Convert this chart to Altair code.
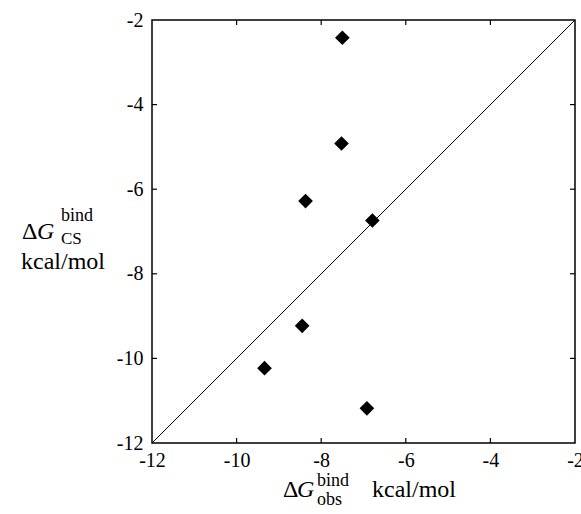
import altair as alt
import pandas as pd

# Observed vs. computed binding free energies (kcal/mol)
dg_obs = [-7.50, -7.52, -8.37, -6.79, -8.45, -9.34, -6.92]
dg_cs = [-2.42, -4.92, -6.28, -6.74, -9.23, -10.23, -11.18]

# Axis range, tick values and the y = x reference line
axis_lo, axis_hi = -12, -2
tick_values = [-12, -10, -8, -6, -4, -2]
inner_ticks = [-10, -8, -6, -4]
diag = [-12, -2]

W, H = 423, 423
SERIF = "Liberation Serif, Times New Roman, Times, serif"
TICK_LEN = 5

points = pd.DataFrame({"obs": dg_obs, "cs": dg_cs})
diag_df = pd.DataFrame({"obs": diag, "cs": diag})
ticks_df = pd.DataFrame({"v": inner_ticks})

xscale = alt.Scale(domain=[axis_lo, axis_hi], nice=False, zero=False)
yscale = alt.Scale(domain=[axis_lo, axis_hi], nice=False, zero=False)

axis_common = dict(
    values=tick_values,
    ticks=False,
    domain=False,
    grid=False,
    labelFont=SERIF,
    labelFontSize=20,
    labelColor="black",
    labelFlush=False,
    labelOverlap=False,
    labelExpr="'' + datum.value",  # plain hyphen-minus
    title=None,
)

x_enc = alt.X("obs:Q", scale=xscale, axis=alt.Axis(labelPadding=7, **axis_common))
y_enc = alt.Y("cs:Q", scale=yscale, axis=alt.Axis(labelPadding=9, **axis_common))

diagonal = alt.Chart(diag_df).mark_line(color="black", strokeWidth=1).encode(
    x=x_enc, y=y_enc
)

scatter = alt.Chart(points).mark_point(
    shape="diamond", filled=True, color="black", size=215, opacity=1
).encode(x=alt.X("obs:Q", scale=xscale), y=alt.Y("cs:Q", scale=yscale))

# Inward tick marks on all four sides of the frame
tick_style = dict(color="black", strokeWidth=1.2)
xq = alt.X("v:Q", scale=xscale)
yq = alt.Y("v:Q", scale=yscale)
ticks_bottom = alt.Chart(ticks_df).mark_rule(**tick_style).encode(
    x=xq, y=alt.value(H), y2=alt.value(H - TICK_LEN)
)
ticks_top = alt.Chart(ticks_df).mark_rule(**tick_style).encode(
    x=xq, y=alt.value(0), y2=alt.value(TICK_LEN)
)
ticks_left = alt.Chart(ticks_df).mark_rule(**tick_style).encode(
    y=yq, x=alt.value(0), x2=alt.value(TICK_LEN)
)
ticks_right = alt.Chart(ticks_df).mark_rule(**tick_style).encode(
    y=yq, x=alt.value(W), x2=alt.value(W - TICK_LEN)
)


def label(text, x, y, size, italic=False):
    """A piece of axis-title text placed relative to the plot origin."""
    kw = dict(
        font=SERIF,
        fontSize=size,
        color="black",
        align="left",
        baseline="alphabetic",
    )
    if italic:
        kw["fontStyle"] = "italic"
    return alt.Chart(pd.DataFrame({"t": [text]})).mark_text(**kw).encode(
        x=alt.value(x), y=alt.value(y), text="t:N"
    )


OX, OY = 152, 20  # plot origin on the page

# x-axis title: ΔG^bind_obs kcal/mol
xt_base = 497
x_title = [
    label("\u0394", 283 - OX, xt_base - OY, 24),
    label("G", 297 - OX, xt_base - OY, 24, italic=True),
    label("bind", 317 - OX, xt_base - 11 - OY, 18),
    label("obs", 317 - OX, xt_base + 8 - OY, 18),
    label("kcal/mol", 372 - OX, xt_base - OY, 24),
]

# y-axis title: ΔG^bind_CS / kcal/mol
yt_base = 239
y_title = [
    label("\u0394", 22 - OX, yt_base - OY, 24),
    label("G", 37 - OX, yt_base - OY, 24, italic=True),
    label("bind", 61 - OX, yt_base - 18 - OY, 18),
    label("CS", 61 - OX, yt_base + 5 - OY, 17),
    label("kcal/mol", 21 - OX, yt_base + 30 - OY, 24),
]

chart = alt.layer(
    diagonal,
    scatter,
    ticks_bottom,
    ticks_top,
    ticks_left,
    ticks_right,
    *x_title,
    *y_title,
).properties(
    width=W,
    height=H,
    autosize=alt.AutoSizeParams(type="none"),
    padding={"left": OX, "top": OY, "right": 6, "bottom": 71},
    background="white",
).configure_view(
    stroke="black", strokeWidth=1.5
)

chart.save("out.html", embed_options={"renderer": "svg", "actions": False})
